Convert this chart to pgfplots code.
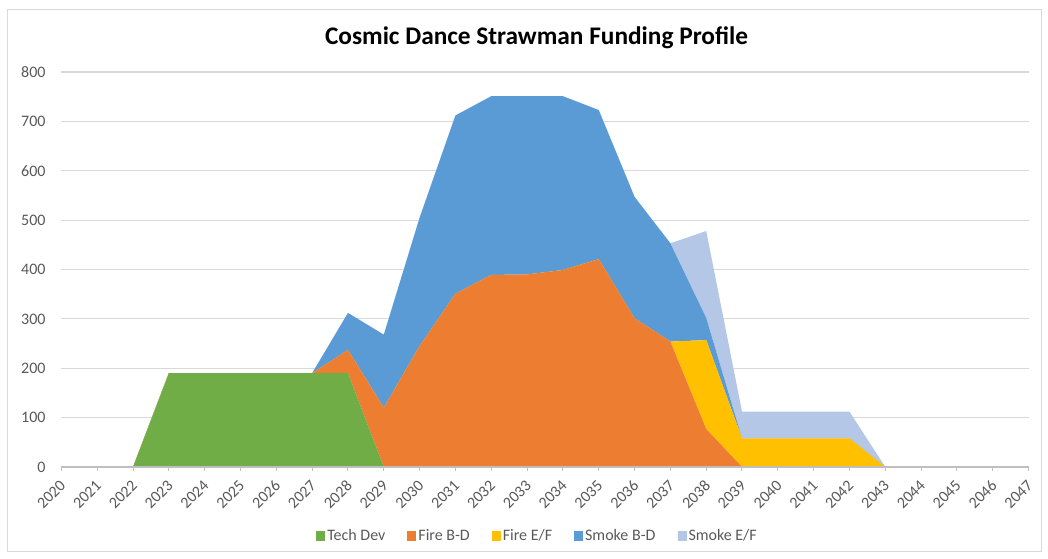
\documentclass[border=0pt]{standalone}
\usepackage{pgfplots}
\usepackage{pgfplotstable}
\pgfplotsset{compat=1.18}
\usepackage{fontspec}
\setmainfont{Carlito}
\definecolor{cgreen}{HTML}{70AD47}
\definecolor{corange}{HTML}{ED7D31}
\definecolor{cyellow}{HTML}{FFC000}
\definecolor{cblue}{HTML}{5B9BD5}
\definecolor{clight}{HTML}{B4C7E7}
\definecolor{gridgray}{HTML}{D9D9D9}
\definecolor{axisgray}{HTML}{BFBFBF}
\definecolor{ticklabel}{HTML}{595959}

\pgfplotstableread{
year td  fbd fef sbd sef
2020 0   0   0   0   0
2021 0   0   0   0   0
2022 0   0   0   0   0
2023 190 0   0   0   0
2024 190 0   0   0   0
2025 190 0   0   0   0
2026 190 0   0   0   0
2027 190 0   0   0   0
2028 190 47  0   75  0
2029 0   120 0   148 0
2030 0   245 0   260 0
2031 0   351 0   361 0
2032 0   389 0   362 0
2033 0   390 0   361 0
2034 0   399 0   352 0
2035 0   421 0   302 0
2036 0   301 0   246 0
2037 0   254 0   199 0
2038 0   77  180 45  176
2039 0   0   58  0   54
2040 0   0   58  0   54
2041 0   0   58  0   54
2042 0   0   58  0   54
2043 0   0   0   0   0
2044 0   0   0   0   0
2045 0   0   0   0   0
2046 0   0   0   0   0
2047 0   0   0   0   0
}\data

\begin{document}
\begin{tikzpicture}
\path[use as bounding box] (0,0) rectangle (786pt,419.25pt);
\draw[gridgray, line width=0.75pt] (5.25pt,5.25pt) rectangle (780.75pt,411.75pt);
\begin{axis}[
  at={(46.05pt,69pt)}, anchor=south west,
  scale only axis, width=725.4pt, height=296.25pt,
  xmin=2020, xmax=2047, ymin=0, ymax=800,
  stack plots=y,
  axis line style={draw=none},
  xtick={2020,...,2047},
  ytick={0,100,...,800},
  xtick pos=left,
  tick align=outside,
  major tick length=3pt,
  xtick style={draw=axisgray, line width=0.75pt},
  ytick style={draw=none},
  ymajorgrids,
  grid style={gridgray, line width=0.9pt},
  /pgf/number format/assume math mode=true,
  /pgf/number format/1000 sep={},
  tick label style={font=\fontsize{12}{14}\selectfont, text=ticklabel},
  yticklabel style={anchor=east, inner sep=0pt, xshift=-8.75pt},
  xticklabel style={xshift=1.5pt, yshift=-8.5pt, rotate=45, anchor=east, inner sep=0.5pt},
  legend columns=5,
  legend style={at={(0.4923,-0.1747)}, anchor=center, draw=none, fill=none,
    font=\fontsize{12}{14}\selectfont, text=ticklabel,
    /tikz/every even column/.append style={column sep=15pt},
    nodes={inner xsep=1.5pt, inner ysep=1pt}},
  legend image code/.code={\fill[#1] (0pt,-3.4pt) rectangle (6.75pt,3.4pt);},
]
\addplot[fill=cgreen, draw=none] table[x=year, y=td]{\data} \closedcycle;
\addlegendentry{Tech Dev}
\addplot[fill=corange, draw=none] table[x=year, y=fbd]{\data} \closedcycle;
\addlegendentry{Fire B-D}
\addplot[fill=cyellow, draw=none] table[x=year, y=fef]{\data} \closedcycle;
\addlegendentry{Fire E/F}
\addplot[fill=cblue, draw=none] table[x=year, y=sbd]{\data} \closedcycle;
\addlegendentry{Smoke B-D}
\addplot[fill=clight, draw=none] table[x=year, y=sef]{\data} \closedcycle;
\addlegendentry{Smoke E/F}
\end{axis}
\draw[axisgray, line width=0.9pt] (46.05pt,69pt) -- (771.45pt,69pt);
\node[font=\bfseries\fontsize{19}{22}\selectfont, anchor=base, text=black] at (402.4pt,385.5pt) {Cosmic Dance Strawman Funding Profile};
\end{tikzpicture}
\end{document}
